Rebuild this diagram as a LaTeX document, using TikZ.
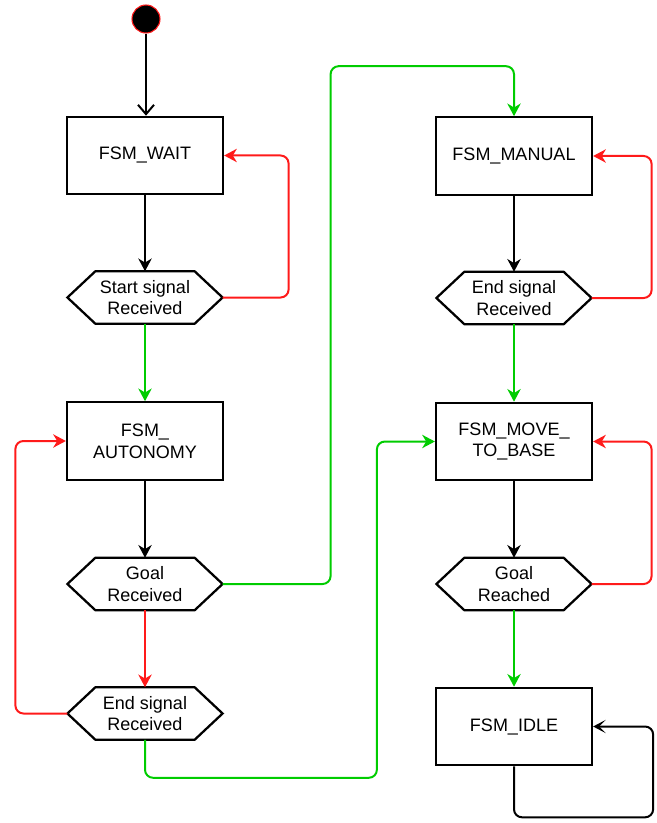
\documentclass[tikz,border=0pt]{standalone}
\usepackage{fontspec}
\setmainfont{Liberation Sans}
\usetikzlibrary{arrows.meta}
\definecolor{okgreen}{HTML}{00CC00}
\definecolor{nogred}{HTML}{FF1A1A}
\tikzset{
  state/.style={draw, line width=1.7pt, minimum width=117pt, minimum height=58pt,
    align=center, inner sep=0pt, font=\fontsize{13.5}{16.3}\selectfont},
  test/.style={minimum width=116pt, minimum height=39pt, align=center, inner sep=0pt,
    font=\fontsize{13.5}{16.3}\selectfont},
  hexborder/.style={line width=1.7pt, line join=miter},
  flow/.style={line width=1.5pt, rounded corners=6pt, -{Stealth[length=9.5pt,width=10pt,inset=3pt]}},
  openflow/.style={line width=1.5pt, rounded corners=6pt, -{Straight Barb[length=7pt,width=12pt]}},
  notchflow/.style={line width=1.5pt, rounded corners=6pt, -{Stealth[length=9.5pt,width=10pt,inset=5pt]}},
  yes/.style={flow, okgreen},
  no/.style={flow, nogred},
}
\begin{document}
\begin{tikzpicture}[x=0.75pt, y=-0.75pt]
\useasboundingbox (0,0) rectangle (656,823);

% initial pseudo-state
\node[circle, fill=black, draw=nogred, line width=0.8pt, minimum size=21pt, inner sep=0pt] (init) at (146,19) {};

% left column
\node[state] (wait) at (145,155.5) {FSM\_WAIT};
\node[test]  (d1)   at (145,297.5) {Start signal\\Received};
\node[state] (auto) at (145,441) {FSM\_\\AUTONOMY};
\node[test]  (d2)   at (145,584) {Goal\\Received};
\node[test]  (d3)   at (145,713.5) {End signal\\Received};

% right column
\node[state] (manual) at (514,156) {FSM\_MANUAL};
\node[test]  (d4)     at (514,298) {End signal\\Received};
\node[state] (move)   at (514,441.5) {FSM\_MOVE\_\\TO\_BASE};
\node[test]  (d5)     at (514,584) {Goal\\Reached};
\node[state] (idle)   at (514,726.5) {FSM\_IDLE};

% hexagonal decision outlines
\foreach \n in {d1,d2,d3,d4,d5}
  \draw[hexborder] (\n.west) -- ([xshift=21pt]\n.north west) -- ([xshift=-21pt]\n.north east)
    -- (\n.east) -- ([xshift=-21pt]\n.south east) -- ([xshift=21pt]\n.south west) -- cycle;

% transitions
\draw[openflow] (init) -- (wait.north -| init);
\draw[flow] (wait.south) -- (d1.north);
\draw[no] (d1.east) -- ++(66,0) |- (wait.east);
\draw[yes] (d1.south) -- (auto.north);
\draw[flow] (auto.south) -- (d2.north);
\draw[no] (d2.south) -- (d3.north);
\draw[no] (d3.west) -- ++(-52,0) |- (auto.west);
\draw[yes] (d2.east) -- ++(108,0) |- ([yshift=37.5pt]manual.north) -- (manual.north);
\draw[yes] (d3.south) -- ++(0,38) -| ([xshift=-43.5pt]move.west) -- (move.west);

\draw[flow] (manual.south) -- (d4.north);
\draw[no] (d4.east) -- ++(60,0) |- (manual.east);
\draw[yes] (d4.south) -- (move.north);
\draw[flow] (move.south) -- (d5.north);
\draw[no] (d5.east) -- ++(60,0) |- (move.east);
\draw[yes] (d5.south) -- (idle.north);
\draw[notchflow] (idle.south) -- ++(0,51) -| ([xshift=45pt]idle.east) -- (idle.east);
\end{tikzpicture}
\end{document}
